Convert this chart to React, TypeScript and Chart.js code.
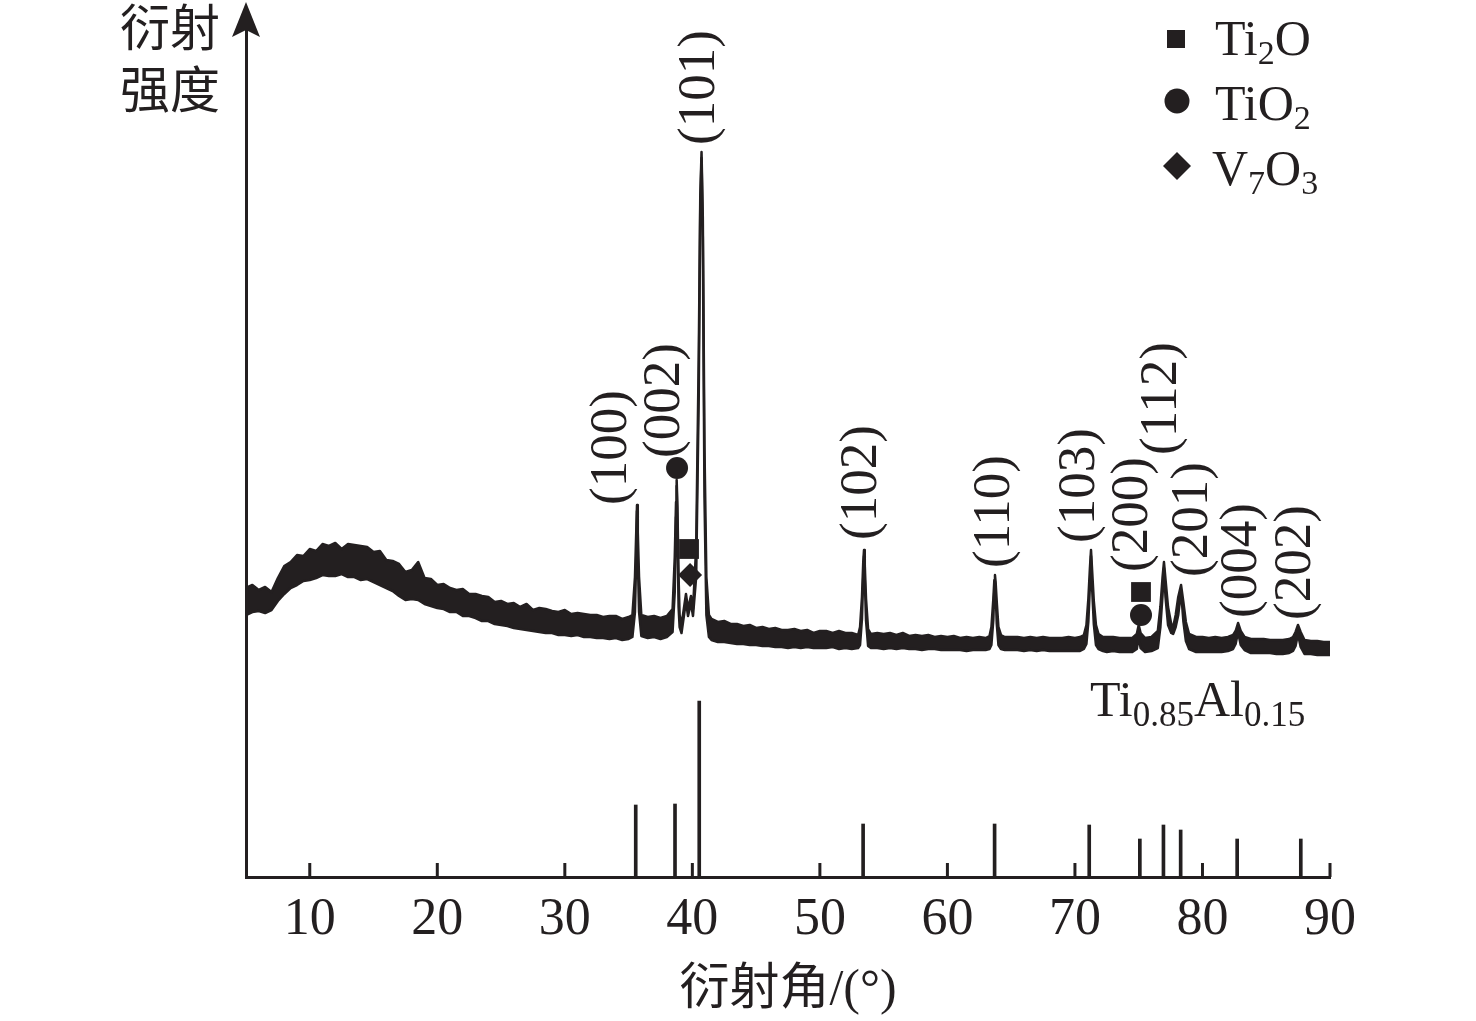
import React, { useEffect, useRef } from 'react';
import { Chart, registerables } from 'chart.js';

Chart.register(...registerables);

const INK = '#231f20';
const SERIF = '"Liberation Serif", "Times New Roman", serif';
const CJK = '"Noto Sans CJK SC", sans-serif';

// 2θ sampling positions (degrees)
const twoTheta = [
  5.0, 5.5, 6.0, 6.5, 7.0, 7.5, 8.0, 8.5, 9.0, 9.5, 10.0, 10.5, 11.0, 11.5, 12.0, 12.5, 13.0, 13.5, 14.0, 14.5,
  15.0, 15.5, 16.0, 16.5, 17.0, 17.5, 18.0, 18.5, 19.0, 19.5, 20.0, 20.5, 21.0, 21.5, 22.0, 22.5, 23.0, 23.5, 24.0, 24.5,
  25.0, 25.5, 26.0, 26.5, 27.0, 27.5, 28.0, 28.5, 29.0, 29.5, 30.0, 30.5, 31.0, 31.5, 32.0, 32.5, 33.0, 33.5, 34.0, 34.5,
  35.0, 35.3, 35.5, 35.6, 35.66, 35.72, 35.82, 36.0, 36.5, 37.0, 37.5, 38.0, 38.45, 38.62, 38.72, 38.77, 38.83, 38.92, 39.0, 39.15,
  39.5, 39.66, 39.89, 40.05, 40.3, 40.5, 40.62, 40.72, 40.82, 40.95, 41.1, 41.3, 41.5, 42.0, 42.5, 43.0, 43.5, 44.0, 44.5, 45.0,
  45.5, 46.0, 46.5, 47.0, 47.5, 48.0, 48.5, 49.0, 49.5, 50.0, 50.5, 51.0, 51.5, 52.0, 52.5, 53.0, 53.15, 53.3, 53.4, 53.46,
  53.52, 53.62, 53.78, 54.0, 54.5, 55.0, 55.5, 56.0, 56.5, 57.0, 57.5, 58.0, 58.5, 59.0, 59.5, 60.0, 60.5, 61.0, 61.5, 62.0,
  62.5, 63.0, 63.3, 63.45, 63.6, 63.68, 63.73, 63.78, 63.87, 64.0, 64.2, 64.5, 65.0, 65.5, 66.0, 66.5, 67.0, 67.5, 68.0, 68.5,
  69.0, 69.5, 70.0, 70.4, 70.7, 70.9, 71.05, 71.17, 71.26, 71.35, 71.48, 71.65, 71.85, 72.2, 72.5, 73.0, 73.5, 74.0, 74.5, 74.85,
  75.0, 75.15, 75.5, 76.0, 76.5, 76.7, 76.87, 76.98, 77.1, 77.3, 77.55, 77.7, 77.9, 78.1, 78.32, 78.5, 78.7, 78.95, 79.5, 80.0,
  80.5, 81.0, 81.5, 82.0, 82.4, 82.6, 82.79, 83.0, 83.3, 83.8, 84.3, 84.8, 85.3, 85.8, 86.3, 86.8, 87.1, 87.3, 87.49, 87.7,
  88.0, 88.5, 89.0, 89.5, 90.0,
];

// upper edge of the noisy measured trace (intensity, a.u.)
const upperEnvelope = [
  289, 292, 287, 290, 285, 299, 311, 315, 322, 321, 328, 326, 333, 331, 334, 328, 333, 332, 331, 330,
  325, 326, 317, 316, 313, 305, 307, 315, 299, 298, 292, 293, 289, 287, 288, 283, 283, 281, 280, 275,
  276, 273, 274, 270, 273, 267, 269, 268, 266, 265, 267, 263, 264, 263, 262, 262, 260, 261, 261, 258,
  260, 262, 300, 345, 372, 345, 300, 262, 260, 261, 259, 261, 268, 320, 375, 397, 370, 300, 262, 252,
  283, 268, 281, 268, 330, 520, 680, 725, 660, 430, 300, 262, 258, 255, 256, 253, 253, 251, 252, 249,
  250, 248, 249, 247, 247, 248, 246, 247, 244, 246, 246, 244, 246, 244, 244, 242, 250, 280, 315, 327,
  312, 278, 248, 243, 244, 243, 244, 242, 244, 241, 242, 241, 242, 240, 241, 240, 241, 239, 240, 239,
  240, 239, 241, 250, 278, 297, 302, 295, 275, 250, 242, 240, 240, 240, 239, 240, 239, 240, 239, 239,
  239, 240, 239, 240, 242, 252, 278, 308, 327, 306, 276, 252, 243, 240, 240, 240, 239, 239, 239, 243,
  252, 244, 239, 240, 246, 270, 300, 315, 298, 270, 253, 250, 262, 280, 292, 275, 255, 243, 240, 240,
  239, 240, 239, 240, 242, 246, 254, 246, 240, 238, 238, 238, 237, 237, 237, 238, 240, 245, 252, 245,
  237, 236, 236, 235, 235,
];

// lower edge of the noisy measured trace (intensity, a.u.)
const lowerEnvelope = [
  262, 265, 266, 264, 267, 276, 283, 289, 292, 296, 297, 299, 302, 301, 301, 303, 300, 300, 297, 298,
  295, 292, 289, 286, 281, 277, 278, 277, 273, 271, 269, 268, 265, 265, 261, 261, 259, 256, 256, 253,
  252, 251, 249, 248, 247, 246, 245, 244, 244, 242, 242, 241, 242, 240, 240, 239, 239, 238, 239, 237,
  238, 240, 265, 320, 366, 320, 265, 241, 239, 240, 238, 240, 245, 285, 360, 391, 350, 270, 250, 244,
  276, 261, 274, 261, 300, 480, 670, 719, 640, 380, 262, 240, 237, 235, 235, 234, 233, 233, 232, 232,
  231, 231, 230, 230, 229, 230, 229, 230, 229, 229, 229, 230, 228, 229, 228, 229, 232, 258, 300, 321,
  298, 256, 231, 229, 229, 228, 229, 228, 229, 228, 228, 227, 228, 228, 227, 227, 227, 227, 226, 227,
  227, 227, 228, 232, 257, 288, 296, 285, 253, 232, 228, 227, 227, 227, 226, 227, 226, 227, 226, 226,
  226, 226, 226, 226, 228, 233, 255, 290, 321, 288, 253, 232, 228, 226, 225, 226, 225, 225, 225, 228,
  240, 229, 225, 226, 229, 250, 282, 309, 280, 252, 244, 243, 250, 262, 286, 256, 236, 228, 225, 225,
  225, 225, 225, 226, 228, 233, 245, 232, 227, 224, 224, 224, 224, 223, 223, 224, 226, 231, 243, 230,
  223, 223, 222, 222, 222,
];

// Ti0.85Al0.15 reference pattern (stick lines)
const stickPositions = [35.56, 38.64, 40.54, 53.39, 63.7, 71.12, 75.09, 76.94, 78.29, 82.72, 87.71];
const stickHeights = [72, 73, 176, 53, 53, 52, 38, 52, 47, 38, 38];

const xTicks = [10, 20, 30, 40, 50, 60, 70, 80, 90];

// Miller-index labels
const hklLabels = ['(100)', '(002)', '(101)', '(102)', '(110)', '(103)', '(200)', '(112)', '(201)', '(004)', '(202)'];
const hklX = [33.7, 37.86, 40.6, 53.3, 63.73, 70.4, 74.55, 76.83, 79.26, 83.1, 87.33];
const hklY = [372, 419, 732, 337, 309, 334, 305, 422, 300, 259, 257];

// phase markers
const ti2oX = [39.74, 75.18];
const ti2oY = [328, 285];
const tio2X = [38.8, 75.18];
const tio2Y = [409, 262];
const v7o3X = [39.82];
const v7o3Y = [302];

type Part = [string, boolean];

function drawRich(ctx: CanvasRenderingContext2D, x: number, y: number, parts: Part[], size = 50, subSize = 34, subDy = 9) {
  let cx = x;
  ctx.textAlign = 'left';
  ctx.textBaseline = 'alphabetic';
  for (const [t, sub] of parts) {
    ctx.font = `${sub ? subSize : size}px ${SERIF}`;
    ctx.fillText(t, cx, sub ? y + subDy : y);
    cx += ctx.measureText(t).width;
  }
}

const decorPlugin = {
  id: 'decor',
  afterDraw(chart: any) {
    const { ctx, chartArea, scales } = chart;
    const xs = scales.x;
    const ys = scales.y;
    ctx.save();
    ctx.fillStyle = INK;
    ctx.strokeStyle = INK;

    // inward ticks
    ctx.lineWidth = 3;
    xTicks.forEach((v) => {
      const px = xs.getPixelForValue(v);
      ctx.beginPath();
      ctx.moveTo(px, chartArea.bottom);
      ctx.lineTo(px, chartArea.bottom - 14);
      ctx.stroke();
    });

    // y-axis arrow
    const ax = chartArea.left;
    ctx.beginPath();
    ctx.moveTo(ax, 2);
    ctx.lineTo(ax - 14, 37);
    ctx.lineTo(ax, 30);
    ctx.lineTo(ax + 14, 37);
    ctx.closePath();
    ctx.fill();

    // y title
    ctx.font = `50px ${CJK}`;
    ctx.textAlign = 'left';
    ctx.textBaseline = 'middle';
    ctx.fillText('衍射', 120, 27);
    ctx.fillText('强度', 120, 89);

    // x title
    const cjkPart = '衍射角';
    const latPart = '/(°)';
    ctx.font = `50px ${CJK}`;
    const w1 = ctx.measureText(cjkPart).width;
    ctx.font = `50px ${SERIF}`;
    const w2 = ctx.measureText(latPart).width;
    const cx = (chartArea.left + chartArea.right) / 2;
    const sx = cx - (w1 + w2) / 2;
    ctx.textBaseline = 'alphabetic';
    ctx.font = `50px ${CJK}`;
    ctx.fillText(cjkPart, sx, 1004);
    ctx.font = `50px ${SERIF}`;
    ctx.fillText(latPart, sx + w1, 1004);

    // hkl labels (rotated)
    ctx.font = `53px ${SERIF}`;
    hklLabels.forEach((t, i) => {
      const px = xs.getPixelForValue(hklX[i]);
      const py = ys.getPixelForValue(hklY[i]);
      ctx.save();
      ctx.translate(px, py);
      ctx.rotate(-Math.PI / 2);
      ctx.textAlign = 'left';
      ctx.textBaseline = 'middle';
      ctx.fillText(t, 0, 0);
      ctx.restore();
    });

    // legend
    ctx.fillRect(1167, 30, 18, 18);
    drawRich(ctx, 1215, 55, [['Ti', false], ['2', true], ['O', false]]);
    ctx.beginPath();
    ctx.arc(1177, 101, 12.5, 0, Math.PI * 2);
    ctx.fill();
    drawRich(ctx, 1215, 120, [['TiO', false], ['2', true]]);
    ctx.beginPath();
    ctx.moveTo(1177, 152);
    ctx.lineTo(1191, 166);
    ctx.lineTo(1177, 180);
    ctx.lineTo(1163, 166);
    ctx.closePath();
    ctx.fill();
    drawRich(ctx, 1212, 185, [['V', false], ['7', true], ['O', false], ['3', true]]);

    // reference pattern name
    drawRich(ctx, 1090, 716, [['Ti', false], ['0.85', true], ['Al', false], ['0.15', true]], 50, 35, 10);

    ctx.restore();
  },
};

export default function App() {
  const ref = useRef<HTMLCanvasElement>(null);
  useEffect(() => {
    const upper = twoTheta.map((v, i) => ({ x: v, y: upperEnvelope[i] }));
    const lower = twoTheta.map((v, i) => ({ x: v, y: lowerEnvelope[i] }));
    const sticks = stickPositions.map((v, i) => ({ x: v, y: stickHeights[i] }));
    const chart = new Chart(ref.current as HTMLCanvasElement, {
      type: 'line',
      data: {
        datasets: [
          {
            type: 'scatter',
            data: tio2X.map((v, i) => ({ x: v, y: tio2Y[i] })),
            pointStyle: 'circle',
            pointRadius: 11,
            backgroundColor: INK,
            borderColor: INK,
            borderWidth: 0,
          } as any,
          {
            type: 'scatter',
            data: ti2oX.map((v, i) => ({ x: v, y: ti2oY[i] })),
            pointStyle: 'rect',
            pointRadius: 14,
            backgroundColor: INK,
            borderColor: INK,
            borderWidth: 0,
          },
          {
            type: 'scatter',
            data: v7o3X.map((v, i) => ({ x: v, y: v7o3Y[i] })),
            pointStyle: 'rectRot',
            pointRadius: 12,
            backgroundColor: INK,
            borderColor: INK,
            borderWidth: 0,
          },
          {
            type: 'line',
            data: upper,
            borderColor: INK,
            borderWidth: 2.5,
            borderJoinStyle: 'round',
            pointRadius: 0,
            tension: 0,
            fill: false,
          },
          {
            type: 'line',
            data: lower,
            borderColor: INK,
            borderWidth: 2.5,
            borderJoinStyle: 'round',
            backgroundColor: INK,
            pointRadius: 0,
            tension: 0,
            fill: 3,
          },
          {
            type: 'bar',
            data: sticks,
            backgroundColor: INK,
            borderWidth: 0,
            barThickness: 3,
          },
        ] as any,
      },
      options: {
        animation: false,
        responsive: true,
        maintainAspectRatio: false,
        events: [],
        layout: { padding: { left: 246, right: 146, top: 30, bottom: 0 } },
        plugins: { legend: { display: false }, tooltip: { enabled: false } },
        scales: {
          x: {
            type: 'linear',
            min: 5,
            max: 90,
            offset: false,
            afterBuildTicks: (s: any) => {
              s.ticks = xTicks.map((v) => ({ value: v }));
            },
            afterFit: (s: any) => {
              s.height = 144;
            },
            grid: { display: false, drawTicks: false },
            border: { display: true, color: INK, width: 3 },
            ticks: {
              autoSkip: false,
              maxRotation: 0,
              padding: 12,
              color: INK,
              font: { family: SERIF, size: 52 },
            },
          },
          y: {
            type: 'linear',
            min: 0,
            max: 847,
            afterFit: (s: any) => {
              s.width = 0;
            },
            grid: { display: false, drawTicks: false },
            border: { display: true, color: INK, width: 3 },
            ticks: { display: false },
          },
        },
      } as any,
      plugins: [decorPlugin],
    });
    return () => chart.destroy();
  }, []);
  return (
    <div style={{ position: 'fixed', left: 0, top: 0, width: 1476, height: 1021, background: '#fff' }}>
      <canvas ref={ref} />
    </div>
  );
}
